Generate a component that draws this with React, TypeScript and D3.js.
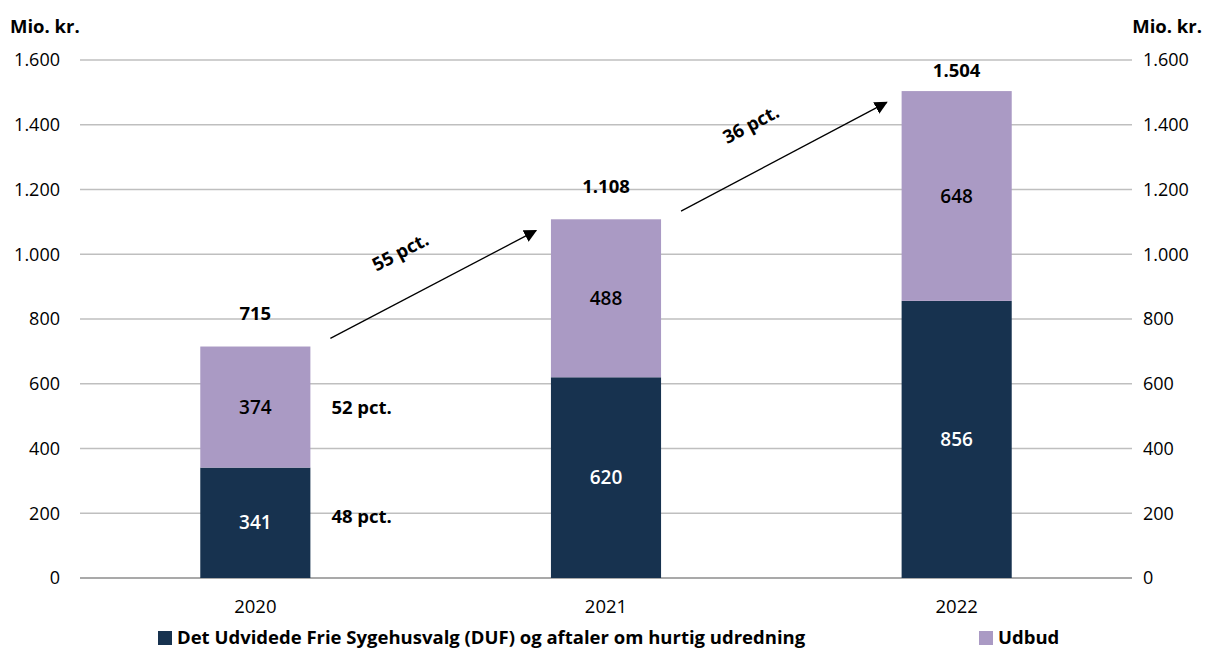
import React from "react";
import * as d3 from "d3";

const years = ["2020", "2021", "2022"];
const duf = [341, 620, 856];
const udbud = [374, 488, 648];
const totals = [715, 1108, 1504];
const shareLabels = ["48 pct.", "52 pct."];
const growthLabels = ["55 pct.", "36 pct."];
const yTicks = [0, 200, 400, 600, 800, 1000, 1200, 1400, 1600];
const seriesNames = ["Det Udvidede Frie Sygehusvalg (DUF) og aftaler om hurtig udredning", "Udbud"];

const W = 1205;
const H = 655;
const NAVY = "#17324f";
const PURPLE = "#aa9ac4";
const FONT = "'Open Sans', 'Segoe UI', sans-serif";

const fmt = (v: number) => d3.format(",")(v).replace(/,/g, ".");

export default function App() {
  const left = 80;
  const right = 1132;
  const top = 60;
  const bottom = 578;
  const x = d3.scaleBand<string>().domain(years).range([left, right]).paddingInner(0.686).paddingOuter(0.343);
  const y = d3.scaleLinear().domain([0, 1600]).range([bottom, top]);
  const bw = x.bandwidth();
  const cx = (i: number) => (x(years[i]) as number) + bw / 2;

  const arrows = [0, 1].map((i) => {
    const x1 = (x(years[i]) as number) + bw + 20;
    const y1 = y(totals[i] + 25);
    const x2 = (x(years[i + 1]) as number) - 15;
    const y2 = y(totals[i + 1] - 35);
    return { x1, y1, x2, y2 };
  });

  return (
    <svg width={W} height={H} style={{ display: "block", position: "absolute", left: 0, top: 0 }} fontFamily={FONT}>
      <defs>
        <marker id="arr" viewBox="0 0 10 10" refX="9" refY="5" markerWidth="13" markerHeight="13" markerUnits="userSpaceOnUse" orient="auto">
          <path d="M0,0 L10,5 L0,10 z" fill="#000" />
        </marker>
      </defs>
      <rect width={W} height={H} fill="#fff" />
      <text x={10} y={33} fontSize={18.5} fontWeight={700} fill="#000">Mio. kr.</text>
      <text x={1202} y={33} fontSize={18.5} fontWeight={700} fill="#000" textAnchor="end">Mio. kr.</text>
      {yTicks.map((t) => (
        <g key={t}>
          <line x1={left} x2={right} y1={y(t)} y2={y(t)} stroke={t === 0 ? "#8c8c8c" : "#bfbfbf"} strokeWidth={1.3} />
          <text x={60} y={y(t)} dy="0.35em" fontSize={18} textAnchor="end" fill="#000">{fmt(t)}</text>
          <text x={1143} y={y(t)} dy="0.35em" fontSize={18} textAnchor="start" fill="#000">{fmt(t)}</text>
        </g>
      ))}
      {years.map((yr, i) => (
        <g key={yr}>
          <rect x={x(yr)} y={y(duf[i])} width={bw} height={y(0) - y(duf[i])} fill={NAVY} />
          <rect x={x(yr)} y={y(duf[i] + udbud[i])} width={bw} height={y(0) - y(udbud[i])} fill={PURPLE} />
          <text x={cx(i)} y={y(duf[i] / 2)} dy="0.35em" fontSize={19} fontWeight={600} fill="#fff" textAnchor="middle">{fmt(duf[i])}</text>
          <text x={cx(i)} y={y(duf[i] + udbud[i] / 2)} dy="0.35em" fontSize={19} fontWeight={600} fill="#000" textAnchor="middle">{fmt(udbud[i])}</text>
          <text x={cx(i)} y={Math.max(y(totals[i]) - 33, 71)} dy="0.35em" fontSize={18.5} fontWeight={700} fill="#000" textAnchor="middle">{fmt(totals[i])}</text>
          <text x={cx(i)} y={607} dy="0.35em" fontSize={18.5} fill="#000" textAnchor="middle">{yr}</text>
        </g>
      ))}
      <text x={(x(years[0]) as number) + bw + 21} y={y(duf[0] / 2) - 6} dy="0.35em" fontSize={18.5} fontWeight={700} fill="#000">{shareLabels[0]}</text>
      <text x={(x(years[0]) as number) + bw + 21} y={y(duf[0] + udbud[0] / 2)} dy="0.35em" fontSize={18.5} fontWeight={700} fill="#000">{shareLabels[1]}</text>
      {arrows.map((a, i) => {
        const dx = a.x2 - a.x1;
        const dyv = a.y2 - a.y1;
        const len = Math.hypot(dx, dyv);
        const ang = (Math.atan2(dyv, dx) * 180) / Math.PI;
        const mx = a.x1 + dx * 0.44;
        const my = a.y1 + dyv * 0.44;
        const nx = mx + (dyv / len) * 44;
        const ny = my - (dx / len) * 44;
        return (
          <g key={i}>
            <line x1={a.x1} y1={a.y1} x2={a.x2} y2={a.y2} stroke="#000" strokeWidth={1.3} markerEnd="url(#arr)" />
            <text transform={`translate(${nx},${ny}) rotate(${ang})`} fontSize={18.5} fontWeight={700} textAnchor="middle" dy="0.35em" fill="#000">{growthLabels[i]}</text>
          </g>
        );
      })}
      <rect x={158} y={631} width={14} height={14} fill={NAVY} />
      <text x={177} y={638} dy="0.35em" fontSize={18.5} fontWeight={700} fill="#000">{seriesNames[0]}</text>
      <rect x={979} y={631} width={14} height={14} fill={PURPLE} />
      <text x={998} y={638} dy="0.35em" fontSize={18.5} fontWeight={700} fill="#000">{seriesNames[1]}</text>
    </svg>
  );
}
